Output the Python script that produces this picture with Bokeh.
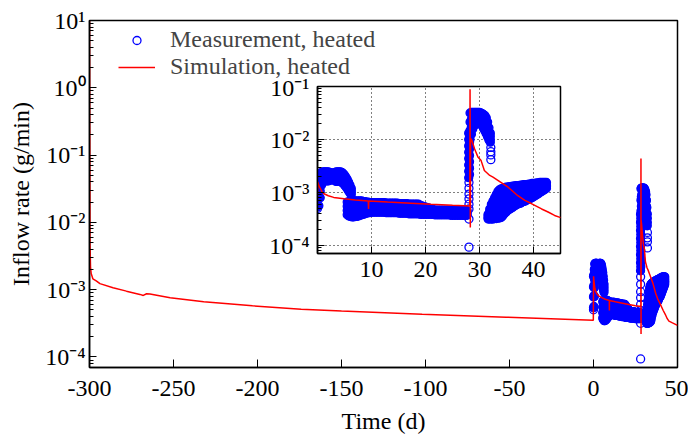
import numpy as np
from bokeh.plotting import figure
from bokeh.models import (Range1d, FixedTicker, Legend, LegendItem, GridBox,
                          ColumnDataSource, CustomJSTickFormatter)
from bokeh.embed import file_html
from bokeh.resources import INLINE

# ---------------- data ----------------
# Simulation, heated (time in d, inflow rate in g/min)
sim_t = [-300, -299.7, -299.4, -299, -298, -296, -293.8, -286, -278, -270, -268, -266, -264,
         -252, -232, -203, -174, -150, -102, -52, -0.1,
         0.05, 0.3, 0.8, 1.2, 2.0, 3.0, 4.9, 7.0, 9.4, 9.45, 9.5, 13, 17.3, 21, 25, 28.2,
         28.25, 28.3, 28.35, 28.6, 29.1, 29.7, 30.3, 30.9, 31.9, 32.5, 33.4, 35.3, 37.1,
         38.4, 39.6, 41.5, 42.7, 43.9, 44.9, 47.0, 50.0]
sim_v = [10, 5.0e-3, 2.19e-3, 1.74e-3, 1.45e-3, 1.35e-3, 1.23e-3, 1.07e-3, 9.5e-4, 8.5e-4, 8.2e-4, 8.7e-4, 8.6e-4,
         7.6e-4, 6.6e-4, 5.75e-4, 5.1e-4, 4.8e-4, 4.3e-4, 3.9e-4, 3.5e-4,
         1.58e-3, 1.32e-3, 1.05e-3, 9.5e-4, 8.7e-4, 8.1e-4, 7.6e-4, 7.2e-4, 6.9e-4, 4.9e-4, 6.9e-4, 6.6e-4, 6.3e-4,
         6.0e-4, 5.75e-4, 5.6e-4,
         8.9e-2, 2.2e-4, 1.05e-2, 9.5e-3, 6.6e-3, 4.7e-3, 4.0e-3, 2.6e-3, 2.1e-3, 1.95e-3, 1.7e-3, 1.26e-3, 8.7e-4,
         7.1e-4, 6.2e-4, 4.9e-4, 4.3e-4, 3.7e-4, 3.4e-4, 3.2e-4, 2.95e-4]

# Measurement, heated: the dense point cloud is read as stations (time in d) with
# several log10(g/min) readings across the cloud at each station.
# rise after heating starts
rise_t = [0.0, 0.25, 0.5, 0.75, 1.0, 1.25, 1.5, 1.75, 2.0, 2.25, 2.5, 2.75, 3.0, 3.25, 3.5, 3.75, 4.0,
          4.25, 4.5, 4.75, 5.0, 5.25, 5.5, 5.75, 6.0, 6.25]
rise_lo = [-3.27, -3.25, -3.10, -2.86, -2.78, -2.78, -2.78, -2.78, -2.78, -2.77, -2.76, -2.75, -2.76, -2.78,
           -2.79, -2.79, -2.79, -2.79, -2.81, -2.83, -2.86, -2.89, -2.93, -2.97, -3.01, -3.04]
rise_q1 = [-3.11, -3.09, -2.97, -2.78, -2.72, -2.72, -2.72, -2.72, -2.72, -2.72, -2.72, -2.71, -2.72, -2.73,
           -2.73, -2.73, -2.73, -2.73, -2.75, -2.77, -2.80, -2.83, -2.87, -2.91, -2.96, -3.00]
rise_q3 = [-2.96, -2.94, -2.83, -2.70, -2.67, -2.67, -2.67, -2.67, -2.67, -2.67, -2.68, -2.68, -2.67, -2.67,
           -2.67, -2.67, -2.67, -2.67, -2.68, -2.70, -2.73, -2.77, -2.81, -2.86, -2.91, -2.96]
rise_hi = [-2.80, -2.78, -2.70, -2.62, -2.61, -2.61, -2.61, -2.61, -2.61, -2.62, -2.63, -2.64, -2.63, -2.62,
           -2.61, -2.61, -2.61, -2.61, -2.62, -2.64, -2.67, -2.71, -2.75, -2.80, -2.86, -2.92]

# plateau until the second step
plat_t = [5.5, 5.8, 6.1, 6.4, 6.7, 7.0, 7.3, 7.6, 7.9, 8.2, 8.5, 8.8, 9.1, 9.4, 9.7, 10.0,
          10.3, 10.6, 10.9, 11.2, 11.5, 11.8, 12.1, 12.4, 12.7, 13.0, 13.3, 13.6, 13.9, 14.2, 14.5, 14.8,
          15.1, 15.4, 15.7, 16.0, 16.3, 16.6, 16.9, 17.2, 17.5, 17.8, 18.1, 18.4, 18.7,
          19.0, 19.3, 19.6, 19.9, 20.2, 20.5, 20.8, 21.1, 21.4,
          21.7, 22.0, 22.3, 22.6, 22.9, 23.2, 23.5, 23.8, 24.1, 24.4, 24.7, 25.0, 25.3, 25.6, 25.9,
          26.2, 26.5, 26.8, 27.1, 27.4, 27.7]
plat_lo = ([-3.42, -3.44, -3.45, -3.46, -3.46, -3.45, -3.45, -3.44, -3.43, -3.42,
            -3.41, -3.40, -3.39, -3.38, -3.38, -3.37]
           + [-3.37] * 8 + [-3.38] * 8 + [-3.39] * 6 + [-3.40] * 7 + [-3.41] * 9
           + [-3.42] * 10 + [-3.43] * 11)
plat_q1 = ([-3.34, -3.35, -3.35, -3.36, -3.36, -3.35, -3.35, -3.35, -3.34, -3.33,
            -3.33, -3.32, -3.32, -3.31, -3.32, -3.31]
           + [-3.31] * 8 + [-3.32] * 8 + [-3.33] * 6 + [-3.34] * 7
           + [-3.35, -3.36, -3.36, -3.36, -3.37, -3.37, -3.37, -3.38, -3.38]
           + [-3.39] * 10 + [-3.40] * 11)
plat_q3 = ([-3.26, -3.26, -3.26, -3.26, -3.26, -3.26, -3.26, -3.25, -3.25, -3.25,
            -3.25, -3.25, -3.25, -3.25, -3.25, -3.25]
           + [-3.25] * 8 + [-3.26] * 8 + [-3.27] * 6 + [-3.28] * 7
           + [-3.30, -3.30, -3.31, -3.32, -3.32, -3.33, -3.34, -3.34, -3.35]
           + [-3.36] * 10 + [-3.37] * 11)
plat_hi = ([-3.18, -3.17, -3.16, -3.16, -3.16, -3.16, -3.16, -3.16, -3.16, -3.16,
            -3.17, -3.17, -3.18, -3.18, -3.19, -3.19]
           + [-3.19] * 8 + [-3.20] * 8 + [-3.21] * 6 + [-3.22] * 7
           + [-3.24, -3.25, -3.26, -3.27, -3.28, -3.29, -3.30, -3.31, -3.32]
           + [-3.33] * 10 + [-3.34] * 11)

# peak after the second step
peak_t = [28.25, 28.5, 28.75, 29.0, 29.25, 29.5, 29.75, 30.0, 30.25, 30.5, 30.75, 31.0, 31.25, 31.5, 31.75, 32.0]
peak_lo = [-2.00, -1.90, -1.80, -1.74, -1.71, -1.70, -1.70, -1.70, -1.71, -1.74, -1.79, -1.84, -1.89, -1.95, -2.01, -2.05]
peak_q1 = [-1.83, -1.76, -1.70, -1.66, -1.64, -1.63, -1.63, -1.63, -1.64, -1.66, -1.70, -1.74, -1.79, -1.86, -1.94, -2.00]
peak_q3 = [-1.67, -1.62, -1.59, -1.57, -1.56, -1.56, -1.56, -1.56, -1.57, -1.58, -1.61, -1.65, -1.69, -1.76, -1.86, -1.94]
peak_hi = [-1.50, -1.49, -1.49, -1.49, -1.49, -1.49, -1.49, -1.49, -1.50, -1.51, -1.53, -1.55, -1.59, -1.67, -1.78, -1.88]

# recovery band
rec_t = [31.6, 31.9, 32.2, 32.5, 32.8, 33.1, 33.4, 33.7, 34.0, 34.3, 34.6, 34.9, 35.2, 35.5, 35.8, 36.1,
         36.4, 36.7, 37.0, 37.3, 37.6, 37.9, 38.2, 38.5, 38.8, 39.1, 39.4, 39.7, 40.0, 40.3, 40.6, 40.9,
         41.2, 41.5, 41.8, 42.1, 42.4]
rec_lo = [-3.50, -3.50, -3.50, -3.50, -3.49, -3.49, -3.48, -3.48, -3.47, -3.44, -3.40, -3.37, -3.34, -3.32,
          -3.30, -3.28, -3.26, -3.24, -3.22, -3.21, -3.20, -3.18, -3.17, -3.16, -3.14, -3.12, -3.11, -3.10,
          -3.08, -3.06, -3.04, -3.02, -3.00, -2.98, -2.96, -2.94, -2.92]
rec_l2 = [-3.48, -3.45, -3.43, -3.42, -3.39, -3.38, -3.36, -3.35, -3.34, -3.31, -3.28, -3.25, -3.23, -3.21,
          -3.20, -3.18, -3.17, -3.15, -3.13, -3.13, -3.12, -3.10, -3.09, -3.08, -3.07, -3.05, -3.04, -3.03,
          -3.02, -3.00, -2.99, -2.97, -2.95, -2.94, -2.92, -2.91, -2.89]
rec_l3 = [-3.46, -3.41, -3.36, -3.33, -3.30, -3.27, -3.23, -3.22, -3.20, -3.18, -3.16, -3.14, -3.12, -3.11,
          -3.10, -3.08, -3.07, -3.06, -3.05, -3.04, -3.03, -3.02, -3.01, -3.01, -3.00, -2.98, -2.98, -2.97,
          -2.96, -2.95, -2.93, -2.92, -2.91, -2.90, -2.89, -2.88, -2.87]
rec_l4 = [-3.43, -3.36, -3.29, -3.25, -3.20, -3.15, -3.11, -3.08, -3.07, -3.05, -3.03, -3.02, -3.01, -3.00,
          -2.99, -2.98, -2.98, -2.96, -2.96, -2.96, -2.95, -2.94, -2.93, -2.93, -2.92, -2.91, -2.91, -2.90,
          -2.89, -2.89, -2.88, -2.87, -2.86, -2.85, -2.85, -2.84, -2.84]
rec_hi = [-3.41, -3.31, -3.22, -3.16, -3.10, -3.04, -2.98, -2.95, -2.93, -2.92, -2.91, -2.90, -2.90, -2.89,
          -2.89, -2.88, -2.88, -2.87, -2.87, -2.87, -2.86, -2.86, -2.85, -2.85, -2.85, -2.84, -2.84, -2.83,
          -2.83, -2.83, -2.82, -2.82, -2.81, -2.81, -2.81, -2.81, -2.81]

# rising column at the second step (dense) and isolated points (time in d, log10 g/min)
col_t = [28.0, 28.15, 28.0, 28.15, 28.0, 28.15, 28.0, 28.15, 28.0, 28.15, 28.0, 28.15, 28.0, 28.15, 28.0]
col_log = [-2.72, -2.66, -2.60, -2.54, -2.48, -2.42, -2.36, -2.30, -2.24, -2.18, -2.12, -2.06, -2.00, -1.94, -1.88]
iso_t = [0.0, 28.05, 28.05, 28.05, 28.05, 28.05, 28.05, 28.05, 28.05, 32.1, 32.1, 32.1, 32.1]
iso_log = [-3.30, -4.03, -3.50, -3.31, -3.22, -3.12, -3.03, -2.92, -2.81, -2.15, -2.23, -2.29, -2.38]

main_xticks = [-300, -250, -200, -150, -100, -50, 0, 50]
main_yticks = [1e-4, 1e-3, 1e-2, 1e-1, 1, 10]
inset_xticks = [10, 20, 30, 40]
inset_yticks = [1e-4, 1e-3, 1e-2, 1e-1]

# ---------------- build ----------------
def station_points(groups):
    ts, vs = [], []
    for times, levels in groups:
        for i, t in enumerate(times):
            for lv in levels:
                ts.append(t)
                vs.append(10 ** lv[i])
    return ColumnDataSource(dict(t=ts, v=vs))


cloud_src = station_points([
    (rise_t, [rise_lo, rise_q1, rise_q3, rise_hi]),
    (plat_t, [plat_lo, plat_q1, plat_q3, plat_hi]),
    (peak_t, [peak_lo, peak_q1, peak_q3, peak_hi]),
    (rec_t, [rec_lo, rec_l2, rec_l3, rec_l4, rec_hi]),
    (col_t, [col_log]),
])
iso_src = station_points([(iso_t, [iso_log])])
sim_src = ColumnDataSource(dict(t=sim_t, v=sim_v))

FONT = "Liberation Serif"
BLUE = "#0000ff"
RED = "#ff0000"
minor_log = [k * 10.0 ** e for e in range(-5, 1) for k in range(2, 10)]

sup_code = """
const m = {"-": "\u207b", "0": "\u2070", "1": "\u00b9", "2": "\u00b2", "3": "\u00b3",
           "4": "\u2074", "5": "\u2075", "6": "\u2076", "7": "\u2077", "8": "\u2078", "9": "\u2079"};
const e = Math.round(Math.log10(tick));
return "10" + String(e).split("").map(c => m[c]).join("");
"""
plain_code = "return tick.toFixed(0);"


def style_axis(ax, tick_in=7, minor_in=4):
    ax.major_label_text_font = FONT
    ax.major_label_text_font_size = "24px"
    ax.major_label_text_color = "black"
    ax.axis_label_text_font = FONT
    ax.axis_label_text_font_size = "24px"
    ax.axis_label_text_font_style = "normal"
    ax.axis_label_text_color = "black"
    ax.axis_line_color = "black"
    ax.axis_line_width = 1.5
    ax.major_tick_line_color = "black"
    ax.minor_tick_line_color = "black"
    ax.major_tick_in = tick_in
    ax.major_tick_out = 0
    ax.minor_tick_in = minor_in
    ax.minor_tick_out = 0


def draw_measurement(p):
    p.scatter("t", "v", source=cloud_src, marker="circle", size=8, fill_color=BLUE, fill_alpha=1,
              line_color=BLUE, line_width=1.3)
    return p.scatter("t", "v", source=iso_src, marker="circle", size=8, fill_alpha=0,
                     line_color=BLUE, line_width=1.3)


# main figure
main = figure(width=688, height=440, x_range=Range1d(-300, 50), y_range=Range1d(10 ** -4.157, 10),
              y_axis_type="log", output_backend="svg", toolbar_location=None,
              min_border_left=89, min_border_right=11, min_border_top=20, min_border_bottom=73)
main.grid.visible = False
main.outline_line_color = "black"
main.outline_line_width = 1.5
main.xaxis.ticker = FixedTicker(ticks=main_xticks, minor_ticks=[])
main.xaxis.formatter = CustomJSTickFormatter(code=plain_code)
main.yaxis.ticker = FixedTicker(ticks=main_yticks, minor_ticks=minor_log)
main.yaxis.formatter = CustomJSTickFormatter(code=sup_code)
main.xaxis.axis_label = "Time (d)"
main.yaxis.axis_label = "Inflow rate (g/min)"
style_axis(main.xaxis[0], 8, 0)
style_axis(main.yaxis[0], 7, 4)
main.xaxis.major_label_standoff = 13
main.xaxis.axis_label_standoff = 9
main.yaxis.major_label_standoff = 4
main.yaxis.axis_label_standoff = 8

c_main = draw_measurement(main)
l_main = main.line("t", "v", source=sim_src, line_color=RED, line_width=1.5)

legend = Legend(items=[LegendItem(label="Measurement, heated", renderers=[c_main]),
                       LegendItem(label="Simulation, heated", renderers=[l_main])],
                location=(29, 287), padding=0, margin=0, spacing=-14, glyph_width=37, glyph_height=20,
                label_standoff=15, label_text_font=FONT, label_text_font_size="24px",
                background_fill_alpha=0, border_line_alpha=0)
main.add_layout(legend)

# inset figure
ins = figure(width=320, height=228, x_range=Range1d(0, 45), y_range=Range1d(10 ** -4.15, 10 ** -1),
             y_axis_type="log", output_backend="svg", toolbar_location=None,
             min_border_left=67, min_border_right=10, min_border_top=12, min_border_bottom=49)
ins.border_fill_alpha = 0
ins.background_fill_color = "white"
ins.outline_line_color = "black"
ins.outline_line_width = 1.5
ins.xaxis.ticker = FixedTicker(ticks=inset_xticks, minor_ticks=[])
ins.xaxis.formatter = CustomJSTickFormatter(code=plain_code)
ins.yaxis.ticker = FixedTicker(ticks=inset_yticks, minor_ticks=minor_log)
ins.yaxis.formatter = CustomJSTickFormatter(code=sup_code)
ins.xgrid.ticker = FixedTicker(ticks=inset_xticks, minor_ticks=[])
ins.ygrid.ticker = FixedTicker(ticks=inset_yticks, minor_ticks=[])
for g in (ins.xgrid[0], ins.ygrid[0]):
    g.grid_line_color = "black"
    g.grid_line_dash = "1 3"
    g.grid_line_width = 1
style_axis(ins.xaxis[0], 7, 0)
style_axis(ins.yaxis[0], 7, 4)
ins.xaxis.major_label_standoff = 8
ins.yaxis.major_label_standoff = 8

draw_measurement(ins)
ins.line("t", "v", source=sim_src, line_color=RED, line_width=1.5)

root = GridBox(children=[(main, 0, 0, 3, 3), (ins, 1, 1, 1, 1)],
               rows=["74px", "228px", "138px"], cols=["250px", "320px", "118px"], spacing=0)

open("out.html", "w").write(file_html(root, INLINE))
